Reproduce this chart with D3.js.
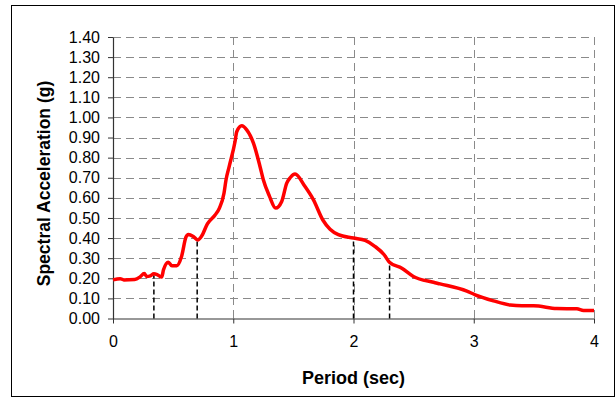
<!DOCTYPE html>
<html>
<head>
<meta charset="utf-8">
<script src="https://cdn.jsdelivr.net/npm/d3@7"></script>
<style>
  html, body { margin: 0; padding: 0; background: #fff; }
  svg { display: block; font-family: Arial, "Liberation Sans", sans-serif; }
</style>
</head>
<body>
<div id="chart-container"></div>
<script>
// period (sec) of each traced point
const periods = [
  0.00, 0.06, 0.09, 0.18, 0.225, 0.26, 0.28, 0.31, 0.34, 0.37, 0.405, 0.42, 0.46, 0.49, 0.53,
  0.57, 0.607, 0.627, 0.668, 0.704, 0.738, 0.785, 0.849, 0.885, 0.923, 0.94, 0.968, 1.015, 1.029,
  1.071, 1.112, 1.168, 1.223, 1.25, 1.30, 1.353, 1.403, 1.445, 1.473, 1.514, 1.597, 1.667, 1.745,
  1.805, 1.874, 2.0, 2.097, 2.18, 2.255, 2.299, 2.402, 2.498, 2.665, 2.72, 2.943, 3.012, 3.164,
  3.303, 3.40, 3.497, 3.69, 3.858, 3.913, 4.0
];
// spectral acceleration (g)
const accels = [
  0.192, 0.198, 0.192, 0.194, 0.207, 0.224, 0.209, 0.212, 0.222, 0.217, 0.206, 0.242, 0.280, 0.262, 0.262,
  0.308, 0.405, 0.418, 0.408, 0.391, 0.411, 0.471, 0.515, 0.549, 0.623, 0.690, 0.760, 0.880, 0.929,
  0.958, 0.938, 0.872, 0.755, 0.690, 0.610, 0.549, 0.582, 0.673, 0.700, 0.719, 0.656, 0.590, 0.490,
  0.444, 0.417, 0.400, 0.388, 0.358, 0.317, 0.280, 0.250, 0.209, 0.180, 0.172, 0.136, 0.118, 0.088,
  0.067, 0.063, 0.063, 0.050, 0.048, 0.040, 0.040
];
// dashed drop lines
const markerPeriods = [0.34, 0.70, 2.0, 2.3];
const markerAccels = [0.215, 0.39, 0.40, 0.28];

const xTicks = [0, 1, 2, 3, 4];
const yTicks = d3.range(0, 15).map(i => i / 10);

const width = 616;
const height = 398;
const margin = { top: 37, right: 22, bottom: 79.5, left: 113 };
const plotW = 594 - margin.left;
const plotH = 318.5 - margin.top;

const svg = d3.select("#chart-container").append("svg")
  .attr("width", width)
  .attr("height", height)
  .attr("viewBox", `0 0 ${width} ${height}`);

// outer frame
svg.append("rect")
  .attr("x", 11.5)
  .attr("y", 5.5)
  .attr("width", 603)
  .attr("height", 391)
  .attr("fill", "#fff")
  .attr("stroke", "#000")
  .attr("stroke-width", 1);

const x = d3.scaleLinear().domain([0, 4]).range([0, plotW]);
const y = d3.scaleLinear().domain([0, 1.4]).range([plotH, 0]);

const g = svg.append("g")
  .attr("transform", `translate(${margin.left}, ${margin.top})`);

// horizontal grid
g.append("g")
  .selectAll("line")
  .data(yTicks.filter(d => d > 0))
  .join("line")
  .attr("x1", 0)
  .attr("x2", plotW)
  .attr("y1", d => Math.round(y(d)) + 0.5)
  .attr("y2", d => Math.round(y(d)) + 0.5)
  .attr("stroke", "#8a8a8a")
  .attr("stroke-width", 1)
  .attr("stroke-dasharray", "8,5");

// vertical grid
g.append("g")
  .selectAll("line")
  .data(xTicks.filter(d => d > 0))
  .join("line")
  .attr("x1", d => Math.round(x(d)) + 0.5)
  .attr("x2", d => Math.round(x(d)) + 0.5)
  .attr("y1", 0)
  .attr("y2", plotH)
  .attr("stroke", "#8a8a8a")
  .attr("stroke-width", 1)
  .attr("stroke-dasharray", "8,5");

// x axis
const xAxis = d3.axisBottom(x)
  .tickValues(xTicks)
  .tickFormat(d3.format("d"))
  .tickSize(5)
  .tickSizeOuter(0);

const gx = g.append("g")
  .attr("transform", `translate(0, ${plotH})`)
  .call(xAxis);
gx.select(".domain").attr("stroke", "#333").attr("stroke-width", 1.2);
gx.selectAll(".tick line").attr("stroke", "#333");
gx.selectAll(".tick text")
  .attr("font-size", 16)
  .attr("font-family", "Arial, 'Liberation Sans', sans-serif")
  .attr("fill", "#000")
  .attr("y", 17);

// y axis
const yAxis = d3.axisLeft(y)
  .tickValues(yTicks)
  .tickFormat(d3.format(".2f"))
  .tickSize(5)
  .tickSizeOuter(0);

const gy = g.append("g").call(yAxis);
gy.select(".domain").attr("stroke", "#333").attr("stroke-width", 1.2);
gy.selectAll(".tick line").attr("stroke", "#333");
gy.selectAll(".tick text")
  .attr("font-size", 16)
  .attr("font-family", "Arial, 'Liberation Sans', sans-serif")
  .attr("fill", "#000")
  .attr("x", -13);

// drop lines
g.append("g")
  .selectAll("line")
  .data(markerPeriods)
  .join("line")
  .attr("x1", d => x(d))
  .attr("x2", d => x(d))
  .attr("y1", plotH)
  .attr("y2", (d, i) => y(markerAccels[i]))
  .attr("stroke", "#000")
  .attr("stroke-width", 1.5)
  .attr("stroke-dasharray", "5,3");

// spectrum
const line = d3.line()
  .x((d, i) => x(periods[i]))
  .y(d => y(d))
  .curve(d3.curveMonotoneX);

g.append("path")
  .datum(accels)
  .attr("fill", "none")
  .attr("stroke", "#ff0000")
  .attr("stroke-width", 3.5)
  .attr("stroke-linejoin", "round")
  .attr("d", line);

// axis titles
svg.append("text")
  .attr("x", margin.left + plotW / 2)
  .attr("y", 384)
  .attr("text-anchor", "middle")
  .attr("font-size", 18)
  .attr("font-weight", "bold")
  .text("Period (sec)");

svg.append("text")
  .attr("transform", "translate(50, 183.5) rotate(-90)")
  .attr("text-anchor", "middle")
  .attr("font-size", 17.5)
  .attr("font-weight", "bold")
  .text("Spectral Acceleration (g)");
</script>
</body>
</html>
